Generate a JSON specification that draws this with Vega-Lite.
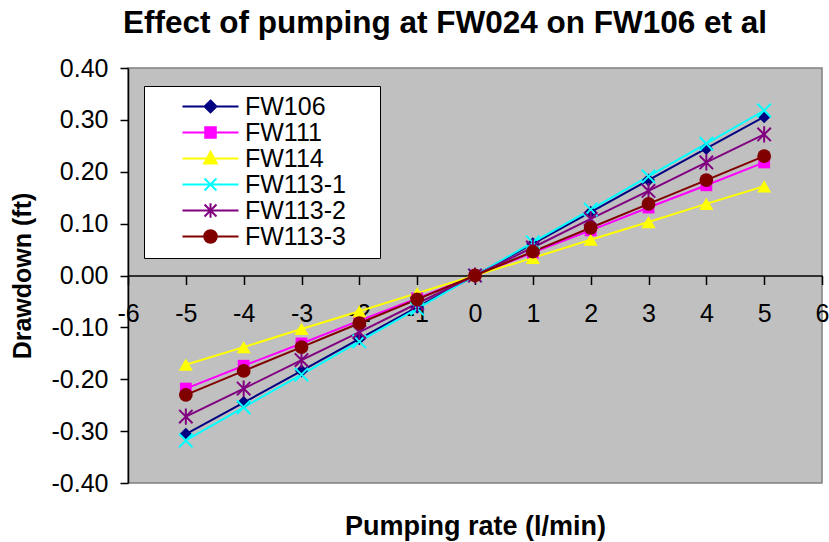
{
  "$schema": "https://vega.github.io/schema/vega-lite/v6.json",
  "width": 694,
  "height": 415,
  "autosize": {"type": "none"},
  "padding": {"left": 128, "top": 68, "right": 7, "bottom": 59},
  "background": "white",
  "config": {
    "font": "Liberation Sans",
    "view": {"fill": "#C0C0C0", "stroke": "#808080", "strokeWidth": 1.5},
    "axis": {
      "labelFont": "Liberation Sans", "labelFontSize": 25, "labelColor": "black",
      "titleFont": "Liberation Sans", "titleFontSize": 25, "titleFontWeight": "bold", "titleColor": "black",
      "domainColor": "black", "tickColor": "black", "grid": false, "domainWidth": 1.5, "tickWidth": 1.5,
      "labelFlush": false, "labelOverlap": false, "labelBound": false
    },
    "legend": {
      "fillColor": "white", "strokeColor": "black", "padding": 8,
      "symbolOffset": 46, "labelOffset": 22, "labelFont": "Liberation Sans", "labelFontSize": 25, "labelColor": "black",
      "rowPadding": 0, "symbolSize": 196, "symbolStrokeWidth": 2, "symbolOpacity": 1, "labelLimit": 400,
      "titleOrient": "right", "titleFontSize": 25, "titlePadding": 26
    }
  },
  "title": {
    "text": "Effect of pumping at FW024 on FW106 et al",
    "font": "Liberation Sans", "fontSize": 31.5, "fontWeight": "bold", "color": "black",
    "anchor": "middle", "dx": -30, "offset": 17
  },
  "data": {"values": [
    {"well": "FW106", "rate": -5, "dd": -0.306}, {"well": "FW106", "rate": -4, "dd": -0.245}, {"well": "FW106", "rate": -3, "dd": -0.184}, {"well": "FW106", "rate": -2, "dd": -0.122}, {"well": "FW106", "rate": -1, "dd": -0.061}, {"well": "FW106", "rate": 0, "dd": 0}, {"well": "FW106", "rate": 1, "dd": 0.061}, {"well": "FW106", "rate": 2, "dd": 0.122}, {"well": "FW106", "rate": 3, "dd": 0.184}, {"well": "FW106", "rate": 4, "dd": 0.245}, {"well": "FW106", "rate": 5, "dd": 0.306},
    {"well": "FW111", "rate": -5, "dd": -0.218}, {"well": "FW111", "rate": -4, "dd": -0.174}, {"well": "FW111", "rate": -3, "dd": -0.131}, {"well": "FW111", "rate": -2, "dd": -0.087}, {"well": "FW111", "rate": -1, "dd": -0.044}, {"well": "FW111", "rate": 0, "dd": 0}, {"well": "FW111", "rate": 1, "dd": 0.044}, {"well": "FW111", "rate": 2, "dd": 0.087}, {"well": "FW111", "rate": 3, "dd": 0.131}, {"well": "FW111", "rate": 4, "dd": 0.174}, {"well": "FW111", "rate": 5, "dd": 0.218},
    {"well": "FW114", "rate": -5, "dd": -0.172}, {"well": "FW114", "rate": -4, "dd": -0.138}, {"well": "FW114", "rate": -3, "dd": -0.103}, {"well": "FW114", "rate": -2, "dd": -0.069}, {"well": "FW114", "rate": -1, "dd": -0.034}, {"well": "FW114", "rate": 0, "dd": 0}, {"well": "FW114", "rate": 1, "dd": 0.034}, {"well": "FW114", "rate": 2, "dd": 0.069}, {"well": "FW114", "rate": 3, "dd": 0.103}, {"well": "FW114", "rate": 4, "dd": 0.138}, {"well": "FW114", "rate": 5, "dd": 0.172},
    {"well": "FW113-1", "rate": -5, "dd": -0.318}, {"well": "FW113-1", "rate": -4, "dd": -0.254}, {"well": "FW113-1", "rate": -3, "dd": -0.191}, {"well": "FW113-1", "rate": -2, "dd": -0.127}, {"well": "FW113-1", "rate": -1, "dd": -0.064}, {"well": "FW113-1", "rate": 0, "dd": 0}, {"well": "FW113-1", "rate": 1, "dd": 0.064}, {"well": "FW113-1", "rate": 2, "dd": 0.127}, {"well": "FW113-1", "rate": 3, "dd": 0.191}, {"well": "FW113-1", "rate": 4, "dd": 0.254}, {"well": "FW113-1", "rate": 5, "dd": 0.318},
    {"well": "FW113-2", "rate": -5, "dd": -0.272}, {"well": "FW113-2", "rate": -4, "dd": -0.218}, {"well": "FW113-2", "rate": -3, "dd": -0.163}, {"well": "FW113-2", "rate": -2, "dd": -0.109}, {"well": "FW113-2", "rate": -1, "dd": -0.054}, {"well": "FW113-2", "rate": 0, "dd": 0}, {"well": "FW113-2", "rate": 1, "dd": 0.054}, {"well": "FW113-2", "rate": 2, "dd": 0.109}, {"well": "FW113-2", "rate": 3, "dd": 0.163}, {"well": "FW113-2", "rate": 4, "dd": 0.218}, {"well": "FW113-2", "rate": 5, "dd": 0.272},
    {"well": "FW113-3", "rate": -5, "dd": -0.230}, {"well": "FW113-3", "rate": -4, "dd": -0.184}, {"well": "FW113-3", "rate": -3, "dd": -0.138}, {"well": "FW113-3", "rate": -2, "dd": -0.092}, {"well": "FW113-3", "rate": -1, "dd": -0.046}, {"well": "FW113-3", "rate": 0, "dd": 0}, {"well": "FW113-3", "rate": 1, "dd": 0.046}, {"well": "FW113-3", "rate": 2, "dd": 0.092}, {"well": "FW113-3", "rate": 3, "dd": 0.138}, {"well": "FW113-3", "rate": 4, "dd": 0.184}, {"well": "FW113-3", "rate": 5, "dd": 0.230}
  ]},
  "encoding": {
    "x": {
      "field": "rate", "type": "quantitative",
      "scale": {"domain": [-6, 6], "nice": false, "zero": false},
      "axis": {
        "values": [-6, -5, -4, -3, -2, -1, 0, 1, 2, 3, 4, 5, 6],
        "labelExpr": "replace(format(datum.value, 'd'), '\u2212', '-')",
        "offset": -207.5, "tickSize": 9, "labelPadding": 17,
        "title": "Pumping rate (l/min)", "titleFontSize": 27, "titleY": 250.5, "titleBaseline": "middle"
      }
    },
    "y": {
      "field": "dd", "type": "quantitative",
      "scale": {"domain": [-0.4, 0.4], "nice": false},
      "axis": {
        "values": [-0.4, -0.3, -0.2, -0.1, 0, 0.1, 0.2, 0.3, 0.4],
        "labelExpr": "replace(format(datum.value, '.2f'), '\u2212', '-')",
        "tickSize": 8, "labelPadding": 12,
        "title": "Drawdown (ft)", "titleX": -106, "titleY": 207.5, "titleAngle": -90,
        "titleAlign": "center", "titleBaseline": "middle"
      }
    }
  },
  "layer": [
    {
      "mark": {"type": "line", "strokeWidth": 2},
      "encoding": {
        "stroke": {
          "field": "well", "type": "nominal",
          "scale": {"range": ["#000080", "#FF00FF", "#00FFFF", "#800080", "#800000", "#FFFF00"]},
          "legend": null
        }
      }
    },
    {"transform": [{"filter": {"field": "well", "equal": "FW106"}}], "mark": {"type": "point", "shape": "diamond", "filled": true, "color": "#000080", "size": 170, "opacity": 1}},
    {"transform": [{"filter": {"field": "well", "equal": "FW111"}}], "mark": {"type": "point", "shape": "square", "filled": true, "color": "#FF00FF", "size": 140, "opacity": 1}},
    {"transform": [{"filter": {"field": "well", "equal": "FW114"}}], "mark": {"type": "point", "shape": "triangle-up", "filled": true, "color": "#FFFF00", "size": 200, "opacity": 1}},
    {"transform": [{"filter": {"field": "well", "equal": "FW113-1"}}], "mark": {"type": "point", "shape": "M-1,-1L1,1M-1,1L1,-1", "filled": false, "color": "#00FFFF", "strokeWidth": 2, "size": 180, "opacity": 1}},
    {"transform": [{"filter": {"field": "well", "equal": "FW113-2"}}], "mark": {"type": "point", "shape": "M-1,-1L1,1M-1,1L1,-1M0,-1.2L0,1.2", "filled": false, "color": "#800080", "strokeWidth": 2, "size": 180, "opacity": 1}},
    {"transform": [{"filter": {"field": "well", "equal": "FW113-3"}}], "mark": {"type": "point", "shape": "circle", "filled": true, "color": "#800000", "size": 190, "opacity": 1}},
    {
      "mark": {"type": "point", "filled": true, "size": 196, "opacity": 0},
      "encoding": {
        "color": {
          "field": "well", "type": "nominal",
          "scale": {"domain": ["FW106", "FW111", "FW114", "FW113-1", "FW113-2", "FW113-3"], "range": ["#000080", "#FF00FF", "#FFFF00", "#00FFFF", "#800080", "#800000"]},
          "legend": {
            "title": "\u00a0", "orient": "none", "legendX": 16, "legendY": 18,
            "encode": {"symbols": {"update": {"fill": {"scale": "color", "field": "value"}, "stroke": {"scale": "color", "field": "value"}, "opacity": {"value": 1}, "strokeWidth": {"value": 2}}}}
          }
        },
        "shape": {
          "field": "well", "type": "nominal",
          "scale": {"domain": ["FW106", "FW111", "FW114", "FW113-1", "FW113-2", "FW113-3"], "range": [
            "M-4,0H4M0,-0.85L0.85,0L0,0.85L-0.85,0Z",
            "M-4,0H4M-0.75,-0.75H0.75V0.75H-0.75Z",
            "M-4,0H4M0,-0.95L0.9,0.7H-0.9Z",
            "M-4,0H4M-0.85,-0.85L0.85,0.85M-0.85,0.85L0.85,-0.85",
            "M-4,0H4M-0.85,-0.85L0.85,0.85M-0.85,0.85L0.85,-0.85M0,-1.05L0,1.05",
            "M-4,0H4M0.9,0A0.9,0.9 0 1 1 -0.9,0A0.9,0.9 0 1 1 0.9,0Z"
          ]},
          "legend": {
            "title": "\u00a0", "orient": "none", "legendX": 16, "legendY": 18,
            "encode": {"symbols": {"update": {"fill": {"scale": "color", "field": "value"}, "stroke": {"scale": "color", "field": "value"}, "opacity": {"value": 1}, "strokeWidth": {"value": 2}}}}
          }
        }
      }
    }
  ]
}
